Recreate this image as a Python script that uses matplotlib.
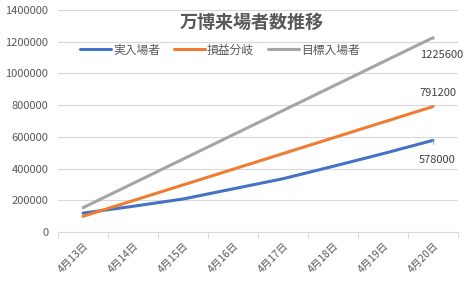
import matplotlib
matplotlib.use("Agg")
import matplotlib.pyplot as plt

plt.rcParams['font.family'] = ['Noto Sans CJK JP', 'DejaVu Sans']

categories = ["4月13日", "4月14日", "4月15日", "4月16日", "4月17日", "4月18日", "4月19日", "4月20日"]
actual = [119000, 162000, 208000, 272000, 336000, 414000, 494000, 578000]
breakeven = [98900, 197800, 296700, 395600, 494500, 593400, 692300, 791200]
target = [153200, 306400, 459600, 612800, 766000, 919200, 1072400, 1225600]
series_names = ["実入場者", "損益分岐", "目標入場者"]
title = "万博来場者数推移"

colors = ["#4472C4", "#ED7D31", "#A5A5A5"]
txt = "#595959"

fig = plt.figure(figsize=(4.67, 2.82), dpi=100)
ax = fig.add_axes([58/467, 1-232/282, 400/467, 222/282])

x = list(range(len(categories)))
lines = []
for vals, c, n in zip([actual, breakeven, target], colors, series_names):
    l, = ax.plot(x, vals, color=c, lw=2.2, label=n, solid_capstyle='round', zorder=3)
    lines.append(l)

ax.set_xlim(-0.5, len(categories) - 0.5)
ax.set_ylim(0, 1400000)
ax.set_yticks(range(0, 1400001, 200000))
ax.set_yticklabels([str(v) for v in range(0, 1400001, 200000)])
ax.grid(axis='y', color='#D9D9D9', lw=0.8)
ax.set_axisbelow(True)
for s in ['top', 'right', 'left']:
    ax.spines[s].set_visible(False)
ax.spines['bottom'].set_color('#D9D9D9')
ax.tick_params(axis='y', length=0, pad=7, labelsize=8, labelcolor=txt)

ax.set_xticks(x)
ax.set_xticklabels(categories, rotation=45, ha='right', rotation_mode='anchor')
ax.tick_params(axis='x', length=0, pad=6, labelsize=7.5, labelcolor=txt)
ax.set_xticks([i - 0.5 for i in range(len(categories) + 1)], minor=True)
ax.tick_params(axis='x', which='minor', length=4, color='#D9D9D9', width=0.8)

# data labels
last = len(categories) - 1
ax.annotate(str(target[-1]), (last, target[-1]), xytext=(9, -17), textcoords='offset pixels',
            ha='center', va='center', fontsize=8, color='#404040',
            arrowprops=dict(arrowstyle='-', color='#A5A5A5', lw=0.8, shrinkA=6, shrinkB=0))
ax.annotate(str(breakeven[-1]), (last, breakeven[-1]), xytext=(5, 14), textcoords='offset pixels',
            ha='center', va='center', fontsize=8, color='#404040')
ax.annotate(str(actual[-1]), (last, actual[-1]), xytext=(4, -20), textcoords='offset pixels',
            ha='center', va='center', fontsize=8, color='#404040',
            arrowprops=dict(arrowstyle='-', color='#A5A5A5', lw=0.8, shrinkA=6, shrinkB=0))

fig.text(252/467, 1-22/282, title, ha='center', va='center', fontsize=13,
         fontweight='bold', color=txt)
fig.legend(handles=lines, loc='center', bbox_to_anchor=(220/467, 1-50/282), ncol=3,
           frameon=False, fontsize=8.5, labelcolor=txt, handlelength=2.6,
           handletextpad=0.2, columnspacing=1.2)

fig.savefig("out.png", dpi=100)
